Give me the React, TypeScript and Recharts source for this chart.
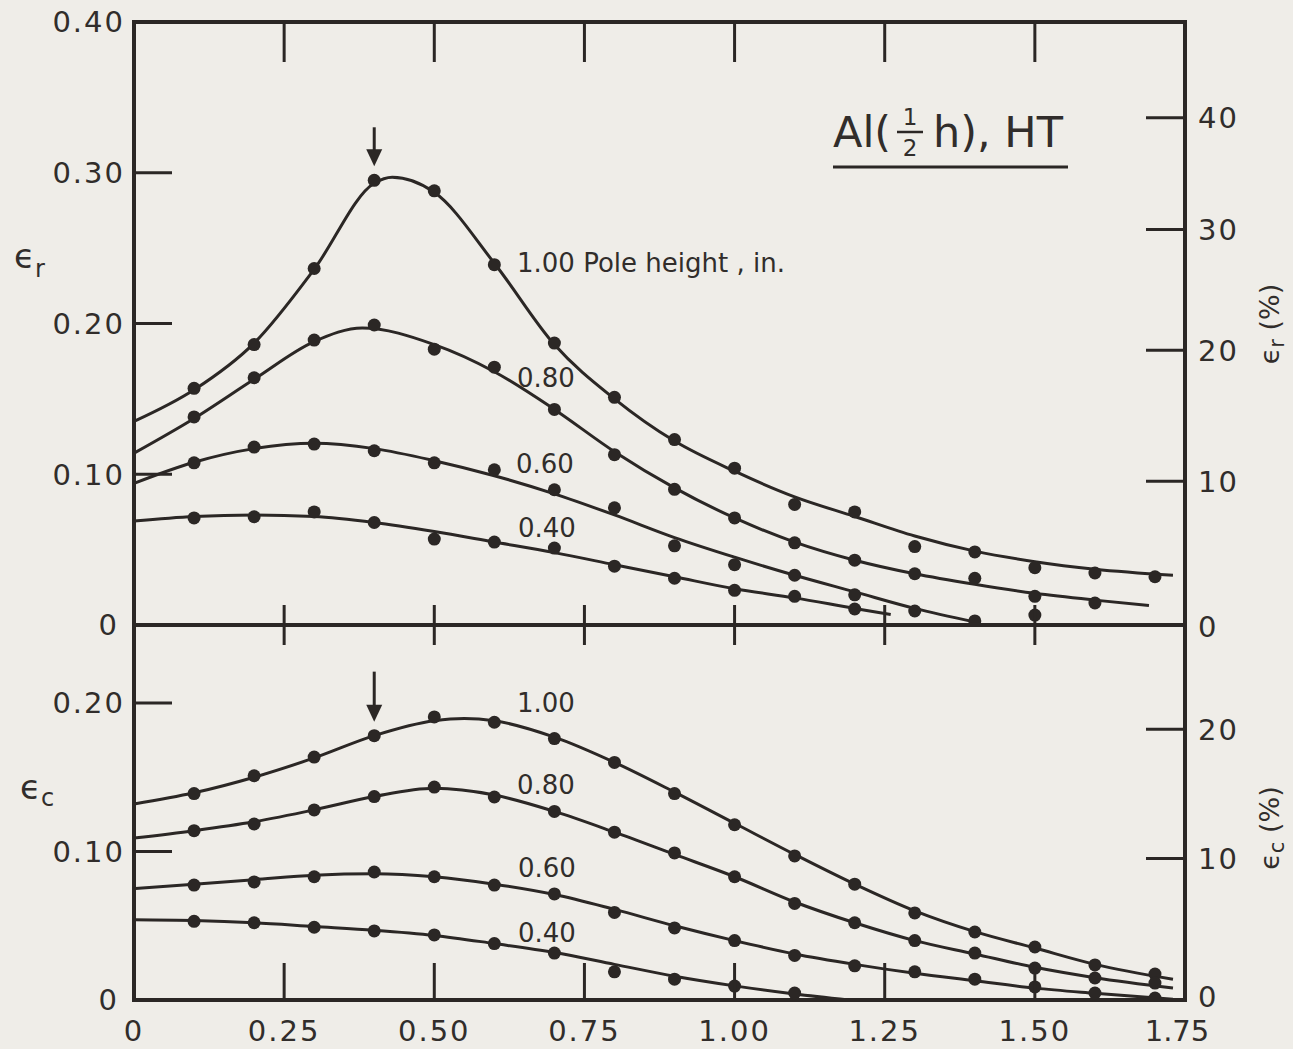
import React from "react";
import {
  ComposedChart,
  Line,
  Scatter,
  XAxis,
  YAxis,
  ReferenceArea,
  ReferenceDot,
} from "recharts";

const INK = "#2b2725";
const TEXT = "#312d2b";
const PAPER = "#efede8";
const FONT = "'DejaVu Sans', sans-serif";

// pole position of the measured points
const X_POINTS = [0.1, 0.2, 0.3, 0.4, 0.5, 0.6, 0.7, 0.8, 0.9, 1.0, 1.1, 1.2, 1.3, 1.4, 1.5, 1.6, 1.7];
const X_TICKS = [0, 0.25, 0.5, 0.75, 1.0, 1.25, 1.5, 1.75];
const X_LABELS = ["0", "0.25", "0.50", "0.75", "1.00", "1.25", "1.50", "1.75"];

const ER_TICKS = [0, 0.1, 0.2, 0.3, 0.4];
const ER_LABELS = ["0", "0.10", "0.20", "0.30", "0.40"];
const ER_PCT = [0, 10, 20, 30, 40];
const EC_TICKS = [0, 0.1, 0.2];
const EC_LABELS = ["0", "0.10", "0.20"];
const EC_PCT = [0, 10, 20];

// measured points, top panel (eps_r), one list per pole height
const ER_100 = [0.157, 0.186, 0.2365, 0.295, 0.288, 0.239, 0.187, 0.151, 0.123, 0.104, 0.08, 0.075, 0.052, 0.0485, 0.038, 0.0345, 0.032];
const ER_080 = [0.138, 0.164, 0.189, 0.199, 0.183, 0.171, 0.143, 0.113, 0.09, 0.071, 0.0545, 0.043, 0.034, 0.031, 0.019, 0.0146, null];
const ER_060 = [0.1076, 0.118, 0.12, 0.1156, 0.1076, 0.103, 0.0897, 0.0777, 0.0525, 0.04, 0.033, 0.02, 0.0093, 0.0027, 0.0066, null, null];
const ER_040 = [0.071, 0.0718, 0.075, 0.068, 0.057, 0.055, 0.051, 0.039, 0.031, 0.023, 0.019, 0.0106, null, null, null, null, null];

// faired curves, top panel
const ER_100_CURVE = [[0, 0.135], [0.1, 0.156], [0.2, 0.187], [0.3, 0.236], [0.4, 0.293], [0.43, 0.297], [0.5, 0.287], [0.6, 0.24], [0.7, 0.186], [0.8, 0.15], [0.9, 0.122], [1.0, 0.102], [1.1, 0.085], [1.2, 0.072], [1.3, 0.059], [1.4, 0.049], [1.5, 0.042], [1.6, 0.037], [1.73, 0.033]];
const ER_080_CURVE = [[0, 0.114], [0.1, 0.137], [0.2, 0.163], [0.3, 0.188], [0.38, 0.197], [0.5, 0.186], [0.6, 0.168], [0.7, 0.143], [0.8, 0.115], [0.9, 0.091], [1.0, 0.071], [1.1, 0.055], [1.2, 0.043], [1.3, 0.034], [1.4, 0.027], [1.5, 0.021], [1.6, 0.0165], [1.69, 0.013]];
const ER_060_CURVE = [[0, 0.094], [0.1, 0.108], [0.2, 0.117], [0.3, 0.1205], [0.4, 0.117], [0.5, 0.109], [0.6, 0.099], [0.7, 0.087], [0.8, 0.073], [0.9, 0.058], [1.0, 0.045], [1.1, 0.033], [1.2, 0.022], [1.3, 0.011], [1.4, 0.002]];
const ER_040_CURVE = [[0, 0.069], [0.1, 0.072], [0.2, 0.073], [0.3, 0.072], [0.4, 0.068], [0.5, 0.062], [0.6, 0.055], [0.7, 0.048], [0.8, 0.04], [0.9, 0.032], [1.0, 0.024], [1.1, 0.018], [1.2, 0.011], [1.26, 0.007]];

// measured points, bottom panel (eps_c)
const EC_100 = [0.139, 0.151, 0.1636, 0.178, 0.1906, 0.187, 0.176, 0.16, 0.139, 0.118, 0.097, 0.078, 0.0586, 0.0458, 0.0357, 0.0236, 0.0175];
const EC_080 = [0.114, 0.1185, 0.128, 0.137, 0.1434, 0.1367, 0.127, 0.113, 0.099, 0.083, 0.065, 0.052, 0.04, 0.0316, 0.0215, 0.0148, 0.0114];
const EC_060 = [0.0774, 0.0795, 0.083, 0.0862, 0.083, 0.0774, 0.0714, 0.059, 0.0485, 0.04, 0.03, 0.023, 0.019, 0.014, 0.0088, 0.0047, 0.0013];
const EC_040 = [0.053, 0.052, 0.049, 0.0465, 0.0438, 0.038, 0.0316, 0.019, 0.014, 0.0094, 0.0047, null, null, null, null, null, null];

// faired curves, bottom panel
const EC_100_CURVE = [[0, 0.132], [0.1, 0.1395], [0.2, 0.15], [0.3, 0.163], [0.4, 0.178], [0.5, 0.188], [0.55, 0.1895], [0.6, 0.188], [0.7, 0.177], [0.8, 0.16], [0.9, 0.14], [1.0, 0.119], [1.1, 0.098], [1.2, 0.078], [1.3, 0.06], [1.4, 0.046], [1.5, 0.035], [1.6, 0.024], [1.73, 0.014]];
const EC_080_CURVE = [[0, 0.109], [0.1, 0.114], [0.2, 0.12], [0.3, 0.128], [0.4, 0.137], [0.5, 0.1425], [0.6, 0.138], [0.7, 0.127], [0.8, 0.113], [0.9, 0.098], [1.0, 0.083], [1.1, 0.066], [1.2, 0.052], [1.3, 0.04], [1.4, 0.031], [1.5, 0.022], [1.6, 0.015], [1.73, 0.008]];
const EC_060_CURVE = [[0, 0.075], [0.1, 0.078], [0.2, 0.081], [0.3, 0.084], [0.4, 0.085], [0.5, 0.083], [0.6, 0.078], [0.7, 0.071], [0.8, 0.061], [0.9, 0.05], [1.0, 0.04], [1.1, 0.031], [1.2, 0.024], [1.3, 0.018], [1.4, 0.013], [1.5, 0.008], [1.6, 0.0045], [1.73, 0.0005]];
const EC_040_CURVE = [[0, 0.054], [0.1, 0.0535], [0.2, 0.052], [0.3, 0.0495], [0.4, 0.047], [0.5, 0.0435], [0.6, 0.038], [0.7, 0.032], [0.8, 0.024], [0.9, 0.016], [1.0, 0.0095], [1.1, 0.004], [1.19, 0]];

const ER_MAX = 0.4;
const EC_MAX = 0.2525;
const X_MAX = 1.75;

const pts = (ys: (number | null)[]) =>
  X_POINTS.flatMap((x, i) => (ys[i] == null ? [] : [{ x, y: ys[i] as number }]));
const curve = (c: number[][]) => c.map(([x, y]) => ({ x, y }));

const Dot = (p: any) => <circle cx={p.cx} cy={p.cy} r={6.5} fill={INK} />;

const arrow = (len: number) => (p: any) => (
  <g>
    <line x1={p.cx} y1={p.cy - len} x2={p.cx} y2={p.cy - 28} stroke={INK} strokeWidth={3} />
    <polygon
      points={`${p.cx - 8},${p.cy - 31} ${p.cx + 8},${p.cy - 31} ${p.cx},${p.cy - 14}`}
      fill={INK}
    />
  </g>
);

const textStyle = { fontFamily: FONT, fontWeight: 400, fill: TEXT } as const;
const tickStyle = { ...textStyle, letterSpacing: 2 };

// left axis: label outside, tick drawn inward
const leftTick = (labels: string[], margin: number) => (p: any) => {
  const v = p.payload.value;
  const ax = p.x + margin;
  return (
    <g>
      {v > 0 && <line x1={ax} y1={p.y} x2={ax + 38} y2={p.y} stroke={INK} strokeWidth={3} />}
      <text
        x={p.x - (v > 0 ? 0 : 6)}
        y={p.y}
        dy="0.36em"
        textAnchor="end"
        fontSize={29}
        style={tickStyle}
      >
        {labels[p.index]}
      </text>
    </g>
  );
};

const rightTick = (labels: number[], margin: number, zeroShift: number) => (p: any) => {
  const v = p.payload.value;
  const ax = p.x - margin;
  return (
    <g>
      {v > 0 && <line x1={ax} y1={p.y} x2={ax - 39} y2={p.y} stroke={INK} strokeWidth={3} />}
      <text
        x={p.x}
        y={p.y + (v > 0 ? 0 : zeroShift)}
        dy="0.36em"
        textAnchor="start"
        fontSize={29}
        style={tickStyle}
      >
        {labels[p.index]}
      </text>
    </g>
  );
};

// top chart x axis: no labels, ticks across the middle axis and down from the top edge
const midTick = (plotTop: number) => (p: any) => {
  const v = p.payload.value;
  if (v <= 0 || v >= X_MAX) return <g />;
  return (
    <g>
      <line x1={p.x} y1={p.y - 20} x2={p.x} y2={p.y + 20} stroke={INK} strokeWidth={3} />
      <line x1={p.x} y1={plotTop} x2={p.x} y2={plotTop + 40} stroke={INK} strokeWidth={3} />
    </g>
  );
};

const bottomTick = (p: any) => {
  const v = p.payload.value;
  const last = v >= X_MAX;
  return (
    <g>
      {v > 0 && !last && (
        <line x1={p.x} y1={p.y - 37} x2={p.x} y2={p.y} stroke={INK} strokeWidth={3} />
      )}
      <text
        x={p.x - (last ? 8 : 0)}
        y={p.y + 31}
        dy="0.36em"
        textAnchor="middle"
        fontSize={29}
        style={last ? textStyle : tickStyle}
      >
        {X_LABELS[p.index]}
      </text>
    </g>
  );
};

const seriesFor = (dots: (number | null)[][], curves: number[][][]) => [
  ...curves.map((c, i) => (
    <Line
      key={`c${i}`}
      yAxisId="left"
      data={curve(c)}
      dataKey="y"
      type="monotone"
      stroke={INK}
      strokeWidth={3}
      dot={false}
      activeDot={false}
      isAnimationActive={false}
    />
  )),
  ...dots.map((d, i) => (
    <Scatter
      key={`d${i}`}
      yAxisId="left"
      data={pts(d)}
      dataKey="y"
      fill={INK}
      shape={Dot}
      isAnimationActive={false}
    />
  )),
];

export default function App() {
  return (
    <div style={{ position: "absolute", left: 0, top: 0, width: 1293, height: 1049, background: PAPER, overflow: "hidden" }}>
      {/* top panel: eps_r */}
      <div style={{ position: "absolute", left: 0, top: 0 }}>
        <ComposedChart width={1293} height={665} margin={{ top: 22, right: 0, bottom: 0, left: 0 }}>
          <XAxis
            type="number"
            dataKey="x"
            domain={[0, X_MAX]}
            ticks={X_TICKS}
            interval={0}
            height={40}
            axisLine={false}
            tickLine={false}
            tickSize={0}
            tickMargin={0}
            tick={midTick(22)}
          />
          <YAxis
            yAxisId="left"
            type="number"
            domain={[0, ER_MAX]}
            allowDataOverflow
            ticks={ER_TICKS}
            interval={0}
            width={134}
            axisLine={false}
            tickLine={false}
            tickSize={0}
            tickMargin={9}
            tick={leftTick(ER_LABELS, 9)}
          />
          <YAxis
            yAxisId="right"
            orientation="right"
            type="number"
            domain={[0, ER_MAX]}
            allowDataOverflow
            ticks={ER_PCT.map((p) => Math.log(1 + p / 100))}
            interval={0}
            width={108}
            axisLine={false}
            tickLine={false}
            tickSize={0}
            tickMargin={13}
            tick={rightTick(ER_PCT, 13, 2)}
          />
          <ReferenceArea
            yAxisId="left"
            x1={0}
            x2={X_MAX}
            y1={0}
            y2={ER_MAX}
            fill="none"
            stroke={INK}
            strokeWidth={4}
            ifOverflow="visible"
          />
          {seriesFor([ER_100, ER_080, ER_060, ER_040], [ER_100_CURVE, ER_080_CURVE, ER_060_CURVE, ER_040_CURVE])}
          <ReferenceDot yAxisId="left" x={0.4} y={ER_100[3]} r={0} shape={arrow(53)} />
        </ComposedChart>
      </div>

      {/* bottom panel: eps_c */}
      <div style={{ position: "absolute", left: 0, top: 600 }}>
        <ComposedChart width={1293} height={449} margin={{ top: 25, right: 0, bottom: 0, left: 0 }}>
          <XAxis
            type="number"
            dataKey="x"
            domain={[0, X_MAX]}
            ticks={X_TICKS}
            interval={0}
            height={49}
            axisLine={false}
            tickLine={false}
            tickSize={0}
            tickMargin={0}
            tick={bottomTick}
          />
          <YAxis
            yAxisId="left"
            type="number"
            domain={[0, EC_MAX]}
            allowDataOverflow
            ticks={EC_TICKS}
            interval={0}
            width={134}
            axisLine={false}
            tickLine={false}
            tickSize={0}
            tickMargin={9}
            tick={leftTick(EC_LABELS, 9)}
          />
          <YAxis
            yAxisId="right"
            orientation="right"
            type="number"
            domain={[0, EC_MAX]}
            allowDataOverflow
            ticks={EC_PCT.map((p) => Math.log(1 + p / 100))}
            interval={0}
            width={108}
            axisLine={false}
            tickLine={false}
            tickSize={0}
            tickMargin={13}
            tick={rightTick(EC_PCT, 13, -3)}
          />
          <ReferenceArea
            yAxisId="left"
            x1={0}
            x2={X_MAX}
            y1={0}
            y2={EC_MAX}
            fill="none"
            stroke={INK}
            strokeWidth={4}
            ifOverflow="visible"
          />
          {seriesFor([EC_100, EC_080, EC_060, EC_040], [EC_100_CURVE, EC_080_CURVE, EC_060_CURVE, EC_040_CURVE])}
          <ReferenceDot yAxisId="left" x={0.4} y={EC_100[3]} r={0} shape={arrow(64)} />
        </ComposedChart>
      </div>

      {/* titles and curve labels */}
      <svg width={1293} height={1049} style={{ position: "absolute", left: 0, top: 0, pointerEvents: "none" }}>
        <g style={textStyle}>
          <text x={14} y={268} fontSize={34}>
            ϵ<tspan fontSize={24} dy={9}>r</tspan>
          </text>
          <text x={20} y={799} fontSize={34}>
            ϵ<tspan fontSize={24} dy={7}>c</tspan>
          </text>
          <text x={1279} y={324} fontSize={27} textAnchor="middle" transform="rotate(-90 1279 324)">
            ϵ<tspan fontSize={21} dy={5}>r</tspan>
            <tspan dy={-5}> (%)</tspan>
          </text>
          <text x={1279} y={828} fontSize={27} textAnchor="middle" transform="rotate(-90 1279 828)">
            ϵ<tspan fontSize={21} dy={5}>c</tspan>
            <tspan dy={-5}> (%)</tspan>
          </text>

          <text x={833} y={147} fontSize={43}>Al(</text>
          <text x={910} y={125} fontSize={23} textAnchor="middle">1</text>
          <line x1={897} y1={132} x2={923} y2={132} stroke={INK} strokeWidth={2.5} />
          <text x={910} y={156} fontSize={23} textAnchor="middle">2</text>
          <text x={933} y={147} fontSize={43}>h), HT</text>
          <line x1={833} y1={167} x2={1068} y2={167} stroke={INK} strokeWidth={3} />

          <text x={517} y={272} fontSize={26}>1.00 Pole height , in.</text>
          <text x={517} y={387} fontSize={26}>0.80</text>
          <text x={516} y={473} fontSize={26}>0.60</text>
          <text x={518} y={537} fontSize={26}>0.40</text>

          <text x={517} y={712} fontSize={26}>1.00</text>
          <text x={517} y={794} fontSize={26}>0.80</text>
          <text x={518} y={877} fontSize={26}>0.60</text>
          <text x={518} y={942} fontSize={26}>0.40</text>
        </g>
      </svg>
    </div>
  );
}
